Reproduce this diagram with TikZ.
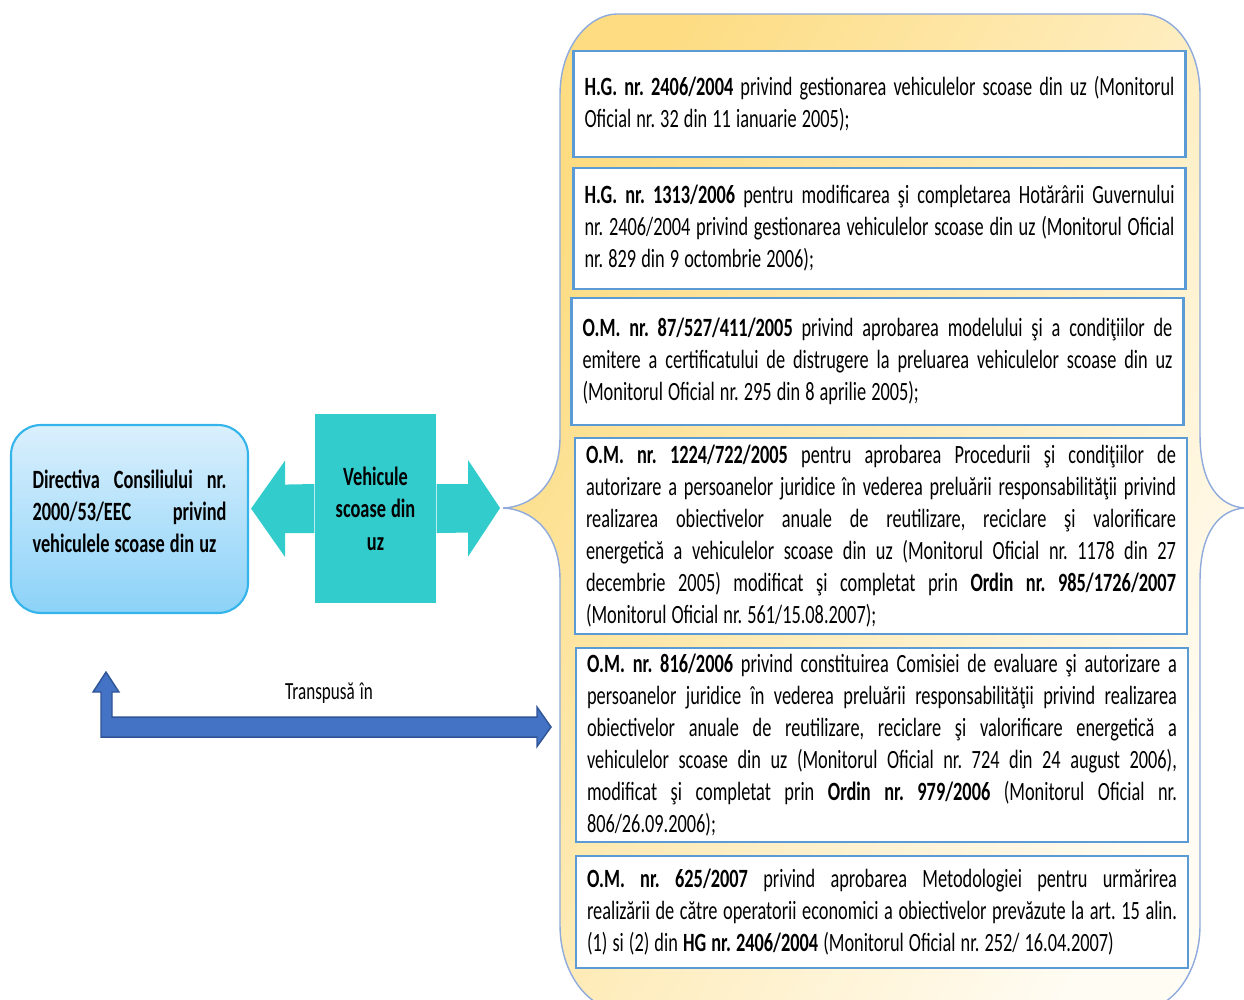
\documentclass[tikz,border=0pt]{standalone}
\usepackage{fontspec}
\setmainfont{Carlito}[FakeStretch=0.695]
\usetikzlibrary{calc}
\definecolor{bracefill}{RGB}{253,220,130}
\definecolor{bracecream}{RGB}{255,252,244}
\definecolor{braceline}{RGB}{143,170,220}
\definecolor{lawline}{RGB}{91,155,213}
\definecolor{dirtop}{RGB}{218,240,253}
\definecolor{dirbottom}{RGB}{140,210,248}
\definecolor{dirline}{RGB}{52,180,234}
\definecolor{vehteal}{RGB}{51,204,204}
\definecolor{transblue}{RGB}{68,114,196}
\definecolor{transline}{RGB}{47,85,151}
% words of a line, joined by \jlgap
\def\jlsplit#1 #2\jlend{#1\ifx\relax#2\relax\else\jlgap\jlsplit#2\jlend\fi}
\def\jlfill{\hskip 1.45pt plus 1fil minus 0.45pt\relax}
\def\jlnat{\hskip 1.45pt\relax}
\newcommand{\jl}[2][59mm]{\leavevmode\hbox to #1{\let\jlgap\jlfill\jlsplit#2 \jlend}\\}
\newcommand{\lastln}[1]{\leavevmode\hbox{\let\jlgap\jlnat\jlsplit#1 \jlend}}
\begin{document}
\begin{tikzpicture}[scale=0.1]
    \tikzstyle{every node}+=[inner sep=0pt]
    \tikzstyle{lawbox}=[draw=lawline, line width=0.6pt, fill=white, text width=59mm, minimum width=61.2mm, align=left, font=\fontsize{7.5}{9.1}\selectfont]
    \tikzstyle{dirbox}=[draw=dirline, line width=0.6pt, top color=dirtop, bottom color=dirbottom, rounded corners=3mm, text width=19.4mm, minimum width=23.7mm, minimum height=18.8mm, align=left, font=\fontsize{7.5}{9.1}\selectfont\bfseries]
    \tikzstyle{vehbox}=[fill=vehteal, minimum width=12.1mm, minimum height=18.9mm]
    \tikzstyle{transbox}=[fill=transblue, draw=transline, line width=0.4pt]
    \useasboundingbox (0,0) rectangle (124.4,-100);
    % brace behind the list
    \coordinate (brtip) at (50.3,-50.8);
    \draw [braceline, line width=0.4pt, top color=bracefill, bottom color=bracecream, shading angle=60]
        (61.7,-1.4) -- (114.2,-1.4) .. controls (117.2,-1.4) and (120,-4.5) .. (120,-9.5)
        -- (120,-43.5) .. controls (120,-48.5) and (122,-50.6) .. (124.4,-50.8)
        .. controls (122,-51) and (120,-53.1) .. (120,-58.1)
        -- (120,-92.5) .. controls (120,-97.5) and (117,-101) .. (114,-101)
        -- (62,-101) .. controls (59,-101) and (56,-97.5) .. (56,-92.5)
        -- (56,-58) .. controls (56,-53) and (53,-50.9) .. (brtip)
        .. controls (53,-50.7) and (56,-48.6) .. (56,-43.7)
        -- (56,-9.5) .. controls (56,-4.5) and (59,-1.4) .. cycle;
    % acts
    \node [lawbox, minimum height=10.6mm] (law1) at (87.95,-10.4) {\jl{\textbf{H.G.} \textbf{nr.} \textbf{2406/2004} privind gestionarea vehiculelor scoase din uz (Monitorul}\lastln{Oficial nr. 32 din 11 ianuarie 2005);}};
    \node [lawbox, minimum height=12.1mm] (law2) at (87.95,-22.85) {\jl{\textbf{H.G.} \textbf{nr.} \textbf{1313/2006} pentru modificarea şi completarea Hotărârii Guvernului}\jl{nr. 2406/2004 privind gestionarea vehiculelor scoase din uz (Monitorul Oficial}\lastln{nr. 829 din 9 octombrie 2006);}};
    \node [lawbox, minimum height=12.7mm] (law3) at (87.75,-36.15) {\jl{\textbf{O.M.} \textbf{nr.} \textbf{87/527/411/2005} privind aprobarea modelului şi a condiţiilor de}\jl{emitere a certificatului de distrugere la preluarea vehiculelor scoase din uz}\lastln{(Monitorul Oficial nr. 295 din 8 aprilie 2005);}};
    \node [lawbox, minimum height=19.6mm] (law4) at (88.1,-53.6) {\jl{\textbf{O.M.} \textbf{nr.} \textbf{1224/722/2005} pentru aprobarea Procedurii şi condiţiilor de}\jl{autorizare a persoanelor juridice în vederea preluării responsabilităţii privind}\jl{realizarea obiectivelor anuale de reutilizare, reciclare şi valorificare}\jl{energetică a vehiculelor scoase din uz (Monitorul Oficial nr. 1178 din 27}\jl{decembrie 2005) modificat şi completat prin \textbf{Ordin} \textbf{nr.} \textbf{985/1726/2007}}\lastln{(Monitorul Oficial nr. 561/15.08.2007);}};
    \node [lawbox, minimum height=19.4mm] (law5) at (88.2,-74.5) {\jl{\textbf{O.M.} \textbf{nr.} \textbf{816/2006} privind constituirea Comisiei de evaluare şi autorizare a}\jl{persoanelor juridice în vederea preluării responsabilităţii privind realizarea}\jl{obiectivelor anuale de reutilizare, reciclare şi valorificare energetică a}\jl{vehiculelor scoase din uz (Monitorul Oficial nr. 724 din 24 august 2006),}\jl{modificat şi completat prin \textbf{Ordin} \textbf{nr.} \textbf{979/2006} (Monitorul Oficial nr.}\lastln{806/26.09.2006);}};
    \node [lawbox, minimum height=11.2mm] (law6) at (88.2,-91.2) {\jl{\textbf{O.M.} \textbf{nr.} \textbf{625/2007} privind aprobarea Metodologiei pentru urmărirea}\jl{realizării de către operatorii economici a obiectivelor prevăzute la art. 15 alin.}\lastln{(1) si (2) din \textbf{HG} \textbf{nr.} \textbf{2406/2004} (Monitorul Oficial nr. 252/ 16.04.2007)}};
    % directive and the two-way arrow
    \node [dirbox] (dir) at (12.95,-51.9) {\jl[19.4mm]{Directiva Consiliului nr.}\jl[19.4mm]{2000/53/EEC privind}\lastln{vehiculele scoase din uz}\par\kern1.5mm};
    \node [vehbox] (veh) at (37.55,-50.85) {};
    \coordinate (lt) at ($(dir.east |- veh.center)+(0.2,0)$);
    \coordinate (rt) at ($(brtip)+(-0.3,0)$);
    \fill [vehteal] (lt) -- ++(3.4,4.8) -- ++(0,-2.4) -- ($(veh.west)+(0,2.45)$) -- ($(veh.west)+(0,-2.45)$) -- ($(lt)+(3.4,-2.45)$) -- ++(0,-2.4) -- cycle;
    \fill [vehteal] (rt) -- ++(-3.2,4.8) -- ++(0,-2.4) -- ($(veh.east)+(0,2.45)$) -- ($(veh.east)+(0,-2.45)$) -- ($(rt)+(-3.2,-2.45)$) -- ++(0,-2.4) -- cycle;
    \node [font=\fontsize{7.5}{9.2}\selectfont\bfseries, align=center] at (veh) {Vehicule\\\lastln{scoase din}\\uz};
    % transposition arrow
    \coordinate (tup) at (10.6,-67.2);
    \coordinate (tright) at (55.1,-72.7);
    \draw [transbox] (tup) -- ++(1.3,-2) -- ++(-0.7,0) |- ($(tright)+(-1.4,1)$) -- ++(0,1) -- (tright) -- ++(-1.4,-1.95) -- ++(0,0.95) -| ($(tup)+(-0.5,-2)$) -- ++(-0.8,0) -- cycle;
    \node [font=\fontsize{7}{8.5}\selectfont] (tr) at (32.9,-69.3) {\lastln{Transpusă în}};
\end{tikzpicture}
\end{document}
